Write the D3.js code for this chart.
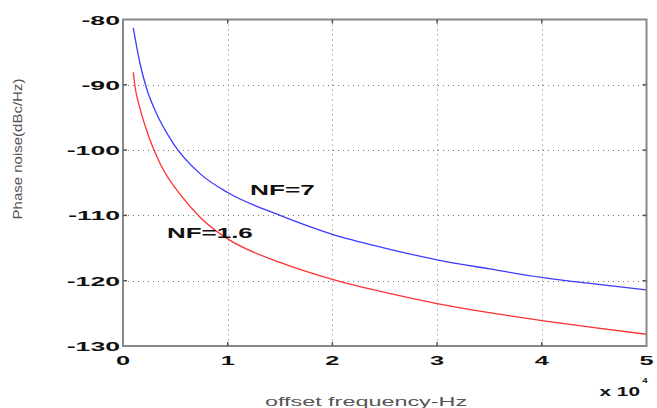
<!DOCTYPE html>
<html>
<head>
<meta charset="utf-8">
<script src="https://cdn.jsdelivr.net/npm/d3@7"></script>
<style>
	html, body { margin: 0; padding: 0; background: #fff; }
	svg { display: block; }
</style>
</head>
<body>
<svg id="chart" width="657" height="408"></svg>
<script>
// Data (offset frequency in units of 1e4 Hz, phase noise in dBc/Hz)
var xTicks = [0, 1, 2, 3, 4, 5],
	yTicks = [-80, -90, -100, -110, -120, -130];

var nf7Freq  = [0.098, 0.131, 0.162, 0.226, 0.306, 0.481, 0.735, 1.0, 1.5, 2.0, 2.5, 3.0, 3.5, 4.0, 4.5, 5.0],
	nf7Noise = [-81.3, -84.2, -86.7, -90.6, -93.9, -99.0, -103.6, -106.5, -110.0, -112.9, -115.0, -116.8, -118.2, -119.5, -120.5, -121.4];

var nf16Freq  = [0.098, 0.115, 0.162, 0.226, 0.353, 0.561, 0.75, 1.0, 1.5, 2.0, 2.5, 3.0, 3.5, 4.0, 4.5, 5.0],
	nf16Noise = [-88.1, -90.3, -93.6, -97.0, -102.0, -107.1, -110.5, -113.6, -117.2, -119.8, -121.8, -123.5, -124.9, -126.1, -127.2, -128.2];

var svg = d3.select('#chart');

// plot box (note: "top" is taken by window.top, so prefix everything)
var boxLeft = 123, boxRight = 646.5, boxTop = 19.5, boxBottom = 346;

var x = d3.scaleLinear().domain([0, 5]).range([boxLeft, boxRight]),
	y = d3.scaleLinear().domain([-130, -80]).range([boxBottom, boxTop]);

// stretched text helper (the picture is wider than its font)
function label(txt, px, py, opts) {
	opts = opts || {};
	return svg.append('text')
		.attr('transform', 'translate(' + px + ',' + py + ')' + (opts.rotate ? ' rotate(' + opts.rotate + ')' : '') + ' scale(' + (opts.sx || 1) + ',1)')
		.attr('text-anchor', opts.anchor || 'start')
		.style('font-family', 'Liberation Sans, Arial, sans-serif')
		.style('font-size', (opts.size || 13) + 'px')
		.style('font-weight', opts.bold ? 'bold' : 'normal')
		.style('fill', opts.color || '#111')
		.text(txt);
}

// grid
var grid = svg.append('g').attr('class', 'grid')
	.style('stroke', '#777').style('stroke-width', 1).style('stroke-dasharray', '1,4');
grid.selectAll('.gx').data(xTicks.slice(1, -1)).enter().append('line')
	.attr('x1', function(d) { return Math.round(x(d)) + 0.5; })
	.attr('x2', function(d) { return Math.round(x(d)) + 0.5; })
	.attr('y1', boxTop).attr('y2', boxBottom);
grid.selectAll('.gy').data(yTicks.slice(1, -1)).enter().append('line')
	.attr('y1', function(d) { return Math.round(y(d)) + 0.5; })
	.attr('y2', function(d) { return Math.round(y(d)) + 0.5; })
	.attr('x1', boxLeft).attr('x2', boxRight);

// curves
var line = d3.line()
	.x(function(d) { return x(d[0]); })
	.y(function(d) { return y(d[1]); })
	.curve(d3.curveMonotoneX);

svg.append('path')
	.datum(d3.zip(nf7Freq, nf7Noise))
	.attr('d', line)
	.style('fill', 'none').style('stroke', '#3b3bff').style('stroke-width', 1.3);

svg.append('path')
	.datum(d3.zip(nf16Freq, nf16Noise))
	.attr('d', line)
	.style('fill', 'none').style('stroke', '#ff3030').style('stroke-width', 1.3);

// box
svg.append('rect')
	.attr('x', boxLeft).attr('y', boxTop)
	.attr('width', boxRight - boxLeft).attr('height', boxBottom - boxTop)
	.style('fill', 'none').style('stroke', '#888').style('stroke-width', 2);

// inward ticks
var ticks = svg.append('g').style('stroke', '#555').style('stroke-width', 1.5);
xTicks.slice(1, -1).forEach(function(d) {
	ticks.append('line').attr('x1', x(d)).attr('x2', x(d)).attr('y1', boxBottom).attr('y2', boxBottom - 4);
	ticks.append('line').attr('x1', x(d)).attr('x2', x(d)).attr('y1', boxTop).attr('y2', boxTop + 4);
});
yTicks.slice(1, -1).forEach(function(d) {
	ticks.append('line').attr('y1', y(d)).attr('y2', y(d)).attr('x1', boxLeft).attr('x2', boxLeft + 4);
	ticks.append('line').attr('y1', y(d)).attr('y2', y(d)).attr('x1', boxRight).attr('x2', boxRight - 4);
});

// tick labels
yTicks.forEach(function(d) {
	label(String(d), boxLeft - 3, y(d) + 5, { anchor: 'end', bold: true, sx: 2.05, size: 13 });
});
xTicks.forEach(function(d) {
	label(String(d), x(d), boxBottom + 19, { anchor: 'middle', bold: true, sx: 1.95, size: 13 });
});

// exponent
label('x 10', 640, 396, { anchor: 'end', bold: true, sx: 1.6, size: 13 });
label('4', 645, 383, { anchor: 'middle', bold: true, sx: 1.2, size: 8 });

// axis titles
label('offset frequency-Hz', 366, 406, { anchor: 'middle', sx: 1.8, size: 13, color: '#555' });
label('Phase noise(dBc/Hz)', 22, 149, { anchor: 'middle', rotate: -90, sx: 1.25, size: 12, color: '#555' });

// curve labels
label('NF=7', 250, 195, { bold: true, sx: 1.75, size: 15 });
label('NF=1.6', 167, 238, { bold: true, sx: 1.73, size: 15 });
</script>
</body>
</html>
